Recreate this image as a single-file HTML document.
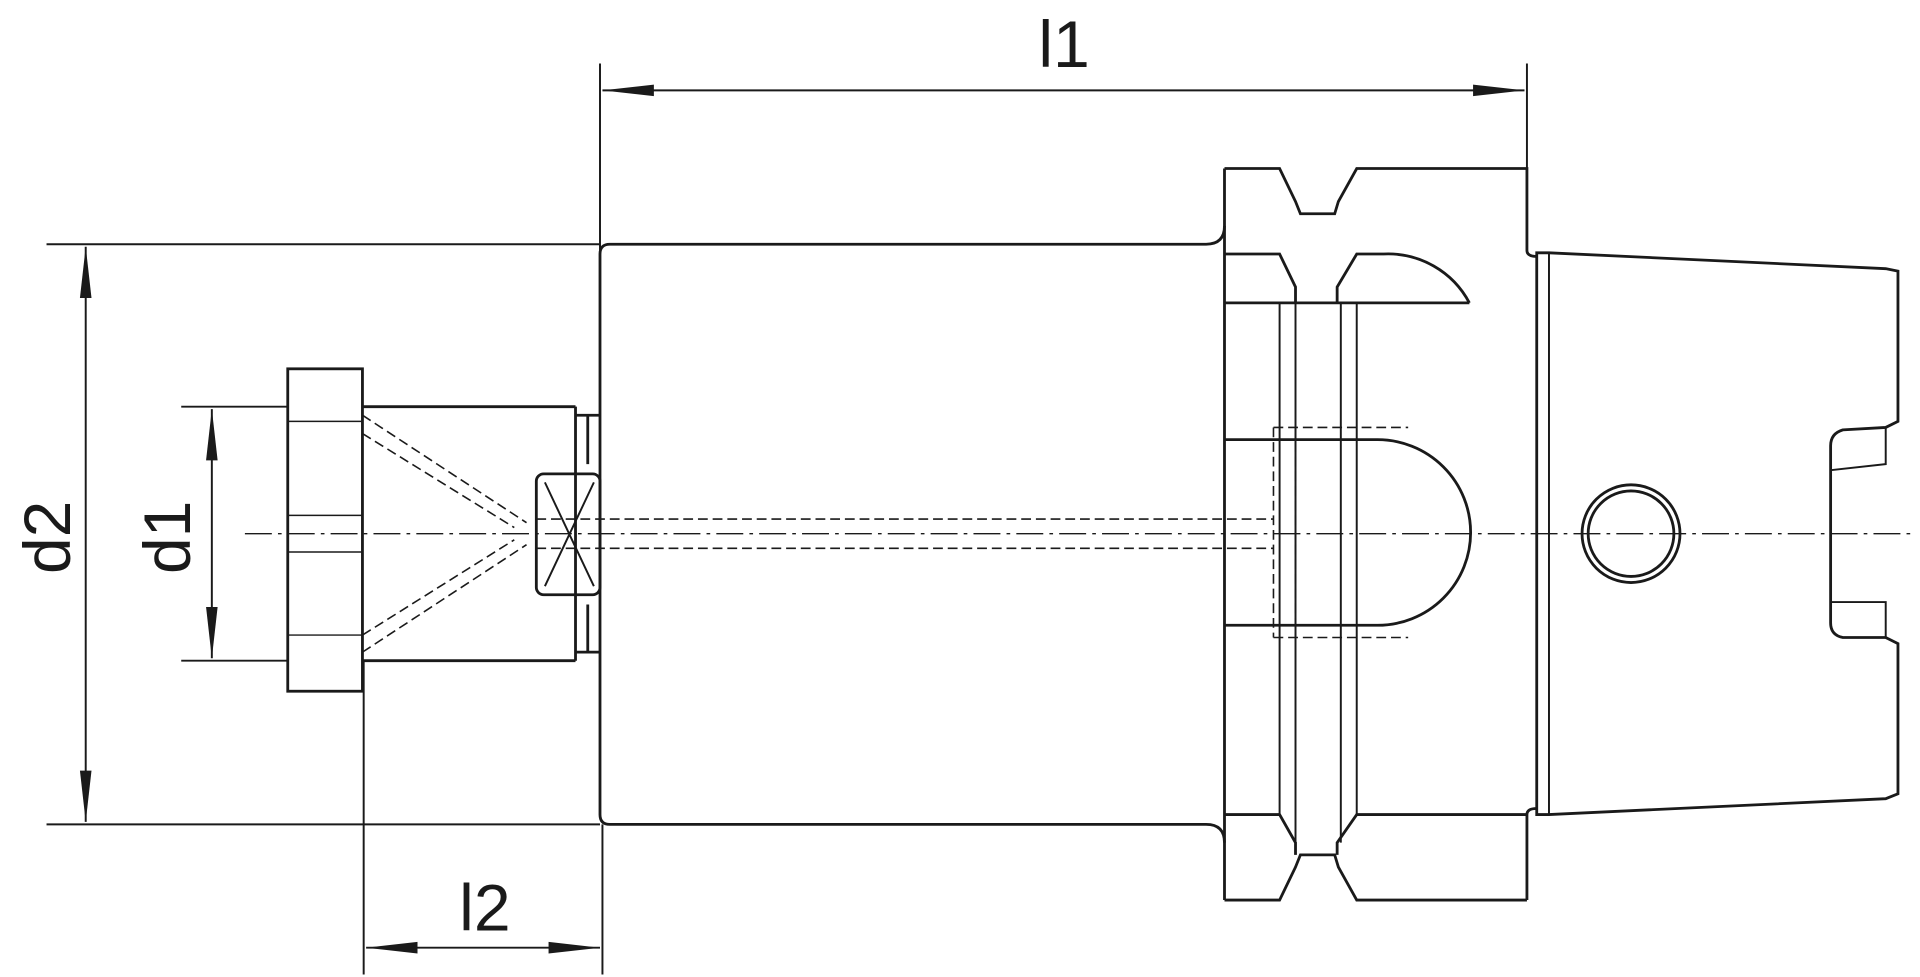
<!DOCTYPE html>
<html><head><meta charset="utf-8"><style>html,body{margin:0;padding:0;background:#fff}svg{display:block}</style></head>
<body>
<svg width="1920" height="977" viewBox="0 0 1568 800" preserveAspectRatio="none" xmlns="http://www.w3.org/2000/svg">
<defs>
<marker id="a" viewBox="0 0 40 10" refX="40" refY="5" markerWidth="42" markerHeight="11" markerUnits="userSpaceOnUse" orient="auto-start-reverse"><path d="M0,0.5 L40,5 L0,9.5 z" fill="#1a1a1a"/></marker>
</defs>
<g fill="none" stroke="#1a1a1a" stroke-width="2.3">
<g stroke-width="1.6">
<line x1="490" y1="52" x2="490" y2="205"/>
<line x1="1247" y1="52" x2="1247" y2="138"/>
<line x1="492" y1="74" x2="1245" y2="74" marker-start="url(#a)" marker-end="url(#a)"/>
<line x1="38" y1="200" x2="490" y2="200"/>
<line x1="38" y1="675" x2="490" y2="675"/>
<line x1="70" y1="202" x2="70" y2="673" marker-start="url(#a)" marker-end="url(#a)"/>
<line x1="148" y1="333" x2="235" y2="333"/>
<line x1="148" y1="541" x2="235" y2="541"/>
<line x1="173" y1="335" x2="173" y2="539" marker-start="url(#a)" marker-end="url(#a)"/>
<line x1="297" y1="541" x2="297" y2="798"/>
<line x1="492" y1="675" x2="492" y2="798"/>
<line x1="299" y1="776" x2="490" y2="776" marker-start="url(#a)" marker-end="url(#a)"/>
</g>
<rect x="235" y="302" width="61" height="264"/>
<g stroke-width="1.2"><line x1="235" y1="345" x2="296" y2="345"/><line x1="235" y1="422" x2="296" y2="422"/><line x1="235" y1="452" x2="296" y2="452"/><line x1="235" y1="520" x2="296" y2="520"/></g>
<line x1="296" y1="333" x2="470" y2="333"/>
<line x1="296" y1="541" x2="470" y2="541"/>
<path d="M470,333 L470,541 M470,340 L490,340 M470,534 L490,534 M480,340 L480,380 M480,495 L480,534"/>
<path d="M490,208 Q490,200 498,200 L985,200 Q1000,200 1000,185 M490,208 L490,667 Q490,675 498,675 L985,675 Q1000,675 1000,690"/>
<path d="M1000,138 L1045,138 L1058,165 L1062,175 L1090,175 L1093,165 L1108,138 L1247,138 L1247,205 Q1247,210 1255,210 M1247,737 L1247,667 Q1247,662 1255,662 M1000,737 L1045,737 L1058,710 L1062,700 L1090,700 L1093,710 L1108,737 L1247,737 M1000,138 L1000,737"/>
<path d="M1000,208 L1045,208 L1058,235 L1058,248 M1000,248 L1200,248 M1092,248 L1092,235 L1108,208 L1130,208 A75,75 0 0 1 1200,248"/>
<path d="M1000,667 L1045,667 L1058,690 L1058,700 M1092,700 L1092,690 L1108,667 L1247,667"/>
<g stroke-width="1.6"><line x1="1045" y1="248" x2="1045" y2="667"/><line x1="1058" y1="248" x2="1058" y2="690"/><line x1="1095" y1="248" x2="1095" y2="690"/><line x1="1108" y1="248" x2="1108" y2="667"/></g>
<path d="M1000,360 L1125,360 A76,76 0 0 1 1125,512 L1000,512"/>
<path d="M1255,207 L1265,207 L1540,220 L1550,222 L1550,345 L1540,350 L1505,352 Q1495,355 1495,365 L1495,510 Q1495,520 1505,522 L1540,522 L1550,527 L1550,650 L1540,654 L1265,667 L1255,667 Z"/>
<path d="M1265,207 L1265,667 M1495,385 L1540,380 L1540,350 M1495,493 L1540,493 L1540,522" stroke-width="1.6"/>
<circle cx="1332" cy="437" r="40"/><circle cx="1332" cy="437" r="35"/>
<rect x="438" y="388" width="52" height="99" rx="6"/>
<path d="M445,395 L485,480 M485,395 L445,480" stroke-width="1.6"/>
<g stroke-width="1.3" stroke-dasharray="8,4">
<line x1="296" y1="340" x2="430" y2="428"/><line x1="296" y1="355" x2="420" y2="432"/>
<line x1="296" y1="534" x2="430" y2="446"/><line x1="296" y1="520" x2="420" y2="442"/>
<line x1="438" y1="425" x2="1040" y2="425"/><line x1="438" y1="449" x2="1040" y2="449"/>
<path d="M1040,350 L1150,350 M1040,522 L1150,522 M1040,350 L1040,522 M1058,350 L1058,522"/>
</g>
<line x1="200" y1="437" x2="1565" y2="437" stroke-width="1.1" stroke-dasharray="22,5,3,5"/>
</g>
<g font-family="Liberation Sans, sans-serif" font-size="54" fill="#1a1a1a">
<text x="848" y="55">l1</text>
<text x="375" y="762">l2</text>
<text transform="translate(57,440) rotate(-90)" text-anchor="middle">d2</text>
<text transform="translate(155,440) rotate(-90)" text-anchor="middle">d1</text>
</g>
</svg>
</body></html>
